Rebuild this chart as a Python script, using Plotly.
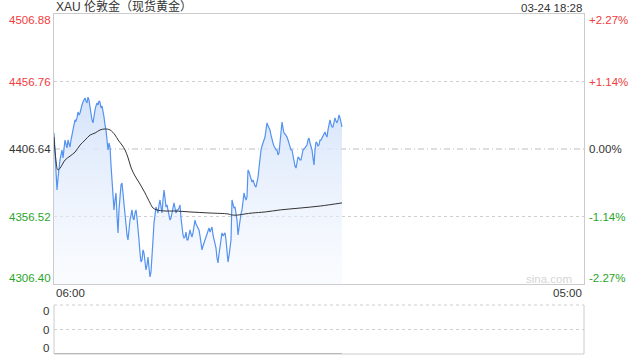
import plotly.graph_objects as go

# ---- data ----
PREV_CLOSE = 4406.64
Y_TICKS = [4306.40, 4356.52, 4406.64, 4456.76, 4506.88]
Y_TICK_TEXT = ["4306.40", "4356.52", "4406.64", "4456.76", "4506.88"]
PCT_TEXT = ["-2.27%", "-1.14%", "0.00%", "+1.14%", "+2.27%"]
TICK_COLORS = ["#2aa52a", "#2aa52a", "#333333", "#f03c3c", "#f03c3c"]
SESSION_MINUTES = 1380          # 06:00 -> 05:00 next day
STEP_MIN = 1380 / 530           # sampling interval of the price series (minutes)
X_LABELS = ["06:00", "05:00"]
TITLE = "XAU 伦敦金（现货黄金）"
STAMP = "03-24 18:28"

prices = [
    4418.5, 4405.9, 4387.3, 4376.2, 4385.1, 4394.8, 4398.5, 4402.2, 4405.9, 4400.0,
    4407.4, 4413.3, 4410.3, 4407.4, 4413.3, 4411.1, 4408.1, 4413.3, 4417.0, 4420.8,
    4424.5, 4428.2, 4427.5, 4429.7, 4434.1, 4431.9, 4433.4, 4437.1, 4439.3, 4441.5,
    4443.0, 4444.5, 4442.3, 4440.8, 4445.2, 4443.0, 4437.8, 4431.9, 4428.2, 4426.0,
    4431.9, 4435.6, 4438.6, 4440.8, 4439.3, 4442.3, 4441.5, 4437.1, 4438.6, 4435.6,
    4430.4, 4424.5, 4420.8, 4413.3, 4405.9, 4411.1, 4408.1, 4394.8, 4383.6, 4372.5,
    4361.4, 4368.8, 4374.0, 4357.6, 4344.3, 4361.4, 4376.2, 4379.9, 4381.4, 4372.5,
    4363.6, 4357.6, 4351.7, 4342.8, 4339.1, 4348.0, 4353.9, 4357.6, 4361.4, 4355.4,
    4353.9, 4359.1, 4361.4, 4355.4, 4348.7, 4339.1, 4329.4, 4322.7, 4324.2, 4331.7,
    4329.4, 4322.7, 4316.8, 4320.5, 4326.4, 4318.3, 4311.6, 4315.3, 4324.2, 4339.1,
    4351.7, 4359.9, 4363.6, 4361.4, 4359.1, 4365.1, 4368.8, 4363.6, 4359.1, 4368.8,
    4376.2, 4370.3, 4363.6, 4365.1, 4361.4, 4357.6, 4353.9, 4355.4, 4359.1, 4362.8,
    4366.6, 4362.8, 4359.1, 4361.4, 4361.4, 4362.8, 4365.1, 4355.4, 4346.5, 4342.8,
    4340.6, 4341.3, 4345.0, 4339.1, 4339.1, 4342.1, 4346.5, 4343.5, 4341.3, 4344.3,
    4349.5, 4353.9, 4350.9, 4349.5, 4348.7, 4346.5, 4342.1, 4336.9, 4331.7, 4334.6,
    4336.9, 4339.1, 4342.1, 4345.0, 4346.5, 4348.0, 4345.0, 4346.5, 4348.7, 4342.8,
    4339.1, 4336.9, 4333.1, 4325.7, 4322.0, 4328.7, 4335.4, 4340.6, 4344.3, 4342.1,
    4343.5, 4344.3, 4339.1, 4331.7, 4322.7, 4327.2, 4333.1, 4339.1, 4368.8, 4366.6,
    4362.8, 4363.6, 4358.4, 4353.9, 4342.8, 4348.0, 4355.4, 4358.4, 4361.4, 4368.8,
    4374.0, 4371.0, 4368.8, 4371.0, 4391.1, 4389.6, 4386.6, 4385.8, 4382.1, 4383.6,
    4380.6, 4379.2, 4378.4, 4382.1, 4385.8, 4392.5, 4400.7, 4405.9, 4408.9, 4411.1,
    4413.3, 4415.5, 4420.8, 4426.0, 4423.8, 4422.2, 4420.8, 4417.0, 4413.3, 4411.1,
    4408.9, 4407.4, 4405.9, 4405.9, 4402.2, 4403.7, 4413.3, 4420.8, 4426.7, 4422.2,
    4418.5, 4417.8, 4417.0, 4415.5, 4413.3, 4411.1, 4408.1, 4405.9, 4405.9, 4400.7,
    4396.3, 4394.0, 4392.5, 4397.0, 4400.7, 4400.0, 4398.5, 4398.5, 4402.2, 4405.9,
    4406.6, 4407.4, 4408.9, 4409.6, 4413.3, 4414.8, 4411.1, 4408.1, 4405.9, 4400.0,
    4394.8, 4405.9, 4411.8, 4411.1, 4408.9, 4409.6, 4413.3, 4413.3, 4414.8, 4415.5,
    4417.8, 4419.3, 4417.0, 4415.5, 4420.8, 4424.5, 4428.2, 4425.2, 4423.0, 4423.0,
    4426.7, 4429.7, 4427.5, 4426.0, 4428.2, 4431.9, 4429.7, 4426.0, 4423.0,
]
price_times = [i * STEP_MIN for i in range(len(prices))]

avg_times = [0, 5, 10, 16, 29, 42, 55, 68, 81, 94, 107, 120, 133, 146, 159, 167,
             177, 185, 193, 201, 211, 224, 237, 250, 258, 268, 289, 315, 354, 406,
             453, 464, 479, 497, 516, 550, 589, 641, 693, 750]
avg_prices = [4415.5, 4398.5, 4391.1, 4392.5, 4398.5, 4401.4, 4404.4, 4409.6, 4413.3,
              4417.0, 4418.5, 4420.8, 4421.5, 4420.8, 4417.0, 4413.3, 4409.6, 4405.9,
              4400.0, 4392.5, 4386.6, 4380.6, 4374.0, 4366.6, 4362.8, 4361.4, 4360.6,
              4360.6, 4359.9, 4359.1, 4358.4, 4357.6, 4357.6, 4358.4, 4359.1, 4359.9,
              4361.4, 4362.8, 4364.3, 4366.6]

vol_times = [0, 750]
vol_values = [0, 0]
VOL_TICK_TEXT = ["0", "0", "0"]

# ---- figure ----
FONT = "Liberation Sans, Arial, Noto Sans CJK SC, sans-serif"
GRID = "#cfcfcf"
BORDER = "#cccccc"
MAIN_DOM = [0.2059, 1.0]
VOL_DOM = [0.0, 0.1441]
Y0, Y1 = Y_TICKS[0], Y_TICKS[-1]

fig = go.Figure()

fig.add_trace(go.Scatter(
    x=price_times, y=prices, mode="lines",
    line=dict(color="#5492f0", width=1.2),
    fill="tozeroy",
    fillgradient=dict(type="vertical",
                      colorscale=[[0, "rgba(240,245,254,0.35)"], [1, "rgba(212,227,250,1)"]],
                      start=Y0, stop=4446),
    xaxis="x", yaxis="y", hoverinfo="skip",
))
fig.add_trace(go.Scatter(
    x=avg_times, y=avg_prices, mode="lines",
    line=dict(color="#333333", width=1, shape="spline"),
    xaxis="x", yaxis="y", hoverinfo="skip",
))
fig.add_trace(go.Scatter(
    x=vol_times, y=vol_values, mode="lines",
    line=dict(color="#888888", width=1.5),
    xaxis="x2", yaxis="y2", hoverinfo="skip",
))

shapes = []
# main panel gridlines
for v in (Y_TICKS[1], Y_TICKS[3]):
    shapes.append(dict(type="line", xref="x domain", yref="y", x0=0, x1=1, y0=v, y1=v,
                       line=dict(color=GRID, width=1, dash="dot"), layer="below"))
shapes.append(dict(type="line", xref="x domain", yref="y", x0=0, x1=1,
                   y0=PREV_CLOSE, y1=PREV_CLOSE,
                   line=dict(color="#bdbdbd", width=1, dash="6px,3px,1px,3px"), layer="below"))
# volume panel frame
shapes += [
    dict(type="line", xref="x2 domain", yref="y2 domain", x0=0, x1=1, y0=1, y1=1,
         line=dict(color=GRID, width=1, dash="dot")),
    dict(type="line", xref="x2 domain", yref="y2 domain", x0=0, x1=1, y0=0.5, y1=0.5,
         line=dict(color=GRID, width=1, dash="dot")),
    dict(type="line", xref="x2 domain", yref="y2 domain", x0=0, x1=1, y0=0, y1=0,
         line=dict(color=BORDER, width=1)),
    dict(type="line", xref="x2 domain", yref="y2 domain", x0=0, x1=0, y0=0, y1=1,
         line=dict(color=BORDER, width=1)),
    dict(type="line", xref="x2 domain", yref="y2 domain", x0=1, x1=1, y0=0, y1=1,
         line=dict(color=BORDER, width=1)),
]

ann = []
n = len(Y_TICKS)
for i, (v, t, p, c) in enumerate(zip(Y_TICKS, Y_TICK_TEXT, PCT_TEXT, TICK_COLORS)):
    ys = 6 if i == 0 else (-6 if i == n - 1 else 0)
    ann.append(dict(xref="paper", yref="y", x=0, y=v, text=t, xanchor="right",
                    yanchor="middle", xshift=-1, yshift=ys, showarrow=False,
                    font=dict(color=c, size=11.5, family=FONT)))
    ann.append(dict(xref="paper", yref="y", x=1, y=v, text=p, xanchor="left",
                    yanchor="middle", xshift=3, yshift=ys, showarrow=False,
                    font=dict(color=c, size=11.5, family=FONT)))
# volume labels
for yv, ys in zip((1, 0.5, 0), (-6, 0, 6)):
    ann.append(dict(xref="paper", yref="y2 domain", x=0, y=yv, text=VOL_TICK_TEXT[0],
                    xanchor="right", yanchor="middle", xshift=-3, yshift=ys,
                    showarrow=False, font=dict(color="#333333", size=11.5, family=FONT)))
# time labels
ann.append(dict(xref="x", yref="paper", x=0, y=MAIN_DOM[0], text=X_LABELS[0],
                xanchor="left", yanchor="top", yshift=-1, showarrow=False,
                font=dict(color="#333333", size=11.5, family=FONT)))
ann.append(dict(xref="x", yref="paper", x=SESSION_MINUTES, y=MAIN_DOM[0], text=X_LABELS[1],
                xanchor="right", yanchor="top", yshift=-1, showarrow=False,
                font=dict(color="#333333", size=11.5, family=FONT)))
# title and timestamp
ann.append(dict(xref="paper", yref="paper", x=0, y=1, text=TITLE, xanchor="left",
                yanchor="bottom", yshift=-2, showarrow=False,
                font=dict(color="#333333", size=12, family=FONT)))
ann.append(dict(xref="paper", yref="paper", x=1, y=1, text=STAMP, xanchor="right",
                yanchor="bottom", yshift=-2, showarrow=False,
                font=dict(color="#333333", size=11.5, family=FONT)))
# watermark
ann.append(dict(xref="paper", yref="y", x=1, y=Y0, text="sina.com", xanchor="right",
                yanchor="bottom", xshift=-10, yshift=-3, showarrow=False,
                font=dict(color="#d6d6d6", size=11.5, family=FONT)))

fig.update_layout(
    width=640, height=360,
    margin=dict(l=54, r=56, t=14, b=6, pad=0),
    paper_bgcolor="white", plot_bgcolor="white",
    showlegend=False,
    xaxis=dict(domain=[0, 1], range=[0, SESSION_MINUTES], showticklabels=False,
               showgrid=False, zeroline=False, ticks="", anchor="y",
               showline=True, mirror=True, linecolor=BORDER, linewidth=1),
    yaxis=dict(domain=MAIN_DOM, range=[Y0, Y1], showticklabels=False, showgrid=False,
               zeroline=False, ticks="", anchor="x",
               showline=True, mirror=True, linecolor=BORDER, linewidth=1),
    xaxis2=dict(domain=[0, 1], range=[0, SESSION_MINUTES], showticklabels=False,
                showgrid=False, zeroline=False, ticks="", anchor="y2"),
    yaxis2=dict(domain=VOL_DOM, range=[0, 1], showticklabels=False, showgrid=False,
                zeroline=False, ticks="", anchor="x2"),
    shapes=shapes, annotations=ann,
)

fig.write_html("out.html")
